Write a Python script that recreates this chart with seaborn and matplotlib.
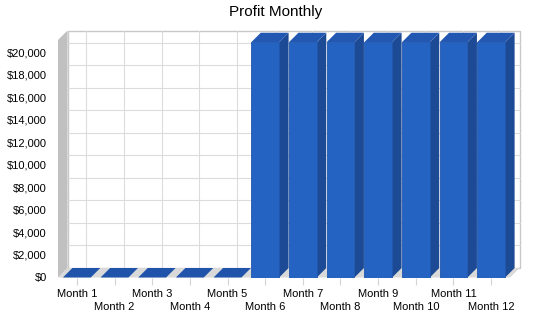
import matplotlib
matplotlib.use("Agg")
import matplotlib.pyplot as plt
import seaborn as sns
import pandas as pd
import numpy as np
from matplotlib.patches import Polygon
from matplotlib.ticker import FuncFormatter, FixedLocator, FixedFormatter

months = ["Month %d" % i for i in range(1, 13)]
profit = [0, 0, 0, 0, 0, 20900, 20900, 20900, 20900, 20900, 20900, 20900]
y_ticks = [0, 2000, 4000, 6000, 8000, 10000, 12000, 14000, 16000, 18000, 20000]
title = "Profit Monthly"

FRONT = "#2563c3"
SIDE = "#1c4a94"
TOP = "#2358b2"
WALL = "#c0c0c0"
FLOOR = "#d9d9d9"
GRID = "#dcdcdc"
DEPTH_PX = 9.5

sns.set_theme(style="white")
plt.rcParams["font.family"] = ["Liberation Sans", "DejaVu Sans"]

W, H = 550, 318
fig = plt.figure(figsize=(W / 100, H / 100), dpi=100)
left, right, bottom, top = 58, 510, 277.5, 40
ax = fig.add_axes([left / W, (H - bottom) / H, (right - left) / W, (bottom - top) / H])

df = pd.DataFrame({"month": months, "profit": profit})
sns.barplot(data=df, x="month", y="profit", color=FRONT, saturation=1, width=0.74,
            ax=ax, zorder=5, linewidth=0.6, edgecolor="#1f56ad")

ymax = 21100
ax.set_xlim(-0.5, len(months) - 0.5)
ax.set_ylim(0, ymax)
ax.set_xlabel("")
ax.set_ylabel("")
for s in ax.spines.values():
    s.set_visible(False)
ax.patch.set_alpha(0)

# depth in data units
px_x = (right - left) / len(months)
px_y = (bottom - top) / ymax
dx = DEPTH_PX / px_x
dy = DEPTH_PX / px_y
x0, x1 = -0.5, len(months) - 0.5

bars = [p for p in ax.patches]

# back wall
ax.add_patch(Polygon([(x0 + dx, dy), (x1 + dx, dy), (x1 + dx, ymax + dy), (x0 + dx, ymax + dy)],
                     closed=True, facecolor="white", edgecolor="#c8c8c8", lw=1.0,
                     zorder=0, clip_on=False))
for v in y_ticks[1:]:
    ax.plot([x0 + dx, x1 + dx], [v + dy, v + dy], color=GRID, lw=0.8, zorder=1, clip_on=False)
for i in range(len(months)):
    ax.plot([i + dx, i + dx], [dy, ymax + dy], color=GRID, lw=0.8, zorder=1, clip_on=False)
# left wall
ax.add_patch(Polygon([(x0, 0), (x0 + dx, dy), (x0 + dx, ymax + dy), (x0, ymax)],
                     closed=True, facecolor=WALL, edgecolor="none", zorder=2, clip_on=False))
# floor
ax.add_patch(Polygon([(x0, 0), (x1, 0), (x1 + dx, dy), (x0 + dx, dy)],
                     closed=True, facecolor=FLOOR, edgecolor="none", zorder=2, clip_on=False))

# 3D faces of bars
for p in bars:
    bx, bw, bh = p.get_x(), p.get_width(), p.get_height()
    if bh <= 0:
        p.set_visible(False)
    side = [(bx + bw, 0), (bx + bw + dx, dy), (bx + bw + dx, bh + dy), (bx + bw, bh)]
    topf = [(bx, bh), (bx + bw, bh), (bx + bw + dx, bh + dy), (bx + dx, bh + dy)]
    ax.add_patch(Polygon(side, closed=True, facecolor=SIDE, edgecolor="none", zorder=4, clip_on=False))
    ax.add_patch(Polygon(topf, closed=True, facecolor=TOP if bh > 0 else "#1f54aa",
                         edgecolor="none", zorder=6, clip_on=False))

ax.set_yticks(y_ticks)
ax.yaxis.set_major_formatter(FuncFormatter(lambda v, _: "${:,.0f}".format(v)))
ax.tick_params(axis="y", length=0, pad=8, labelsize=8, colors="black")

odd_pos = list(range(0, len(months), 2))
even_pos = list(range(1, len(months), 2))
ax.xaxis.set_major_locator(FixedLocator(odd_pos))
ax.xaxis.set_major_formatter(FixedFormatter([months[i] for i in odd_pos]))
ax.xaxis.set_minor_locator(FixedLocator(even_pos))
ax.xaxis.set_minor_formatter(FixedFormatter([months[i] for i in even_pos]))
ax.tick_params(axis="x", which="major", length=5, width=0.8, color="#d4d4d4", pad=3,
               labelsize=8, labelcolor="black", bottom=True)
ax.tick_params(axis="x", which="minor", length=5, width=0.8, color="#d4d4d4", pad=12.5,
               labelsize=8, labelcolor="black", bottom=True)

fig.text(276 / W, 1 - 12 / H, title, ha="center", va="center", fontsize=11, color="black")

fig.savefig("out.png", dpi=100, facecolor="white")
